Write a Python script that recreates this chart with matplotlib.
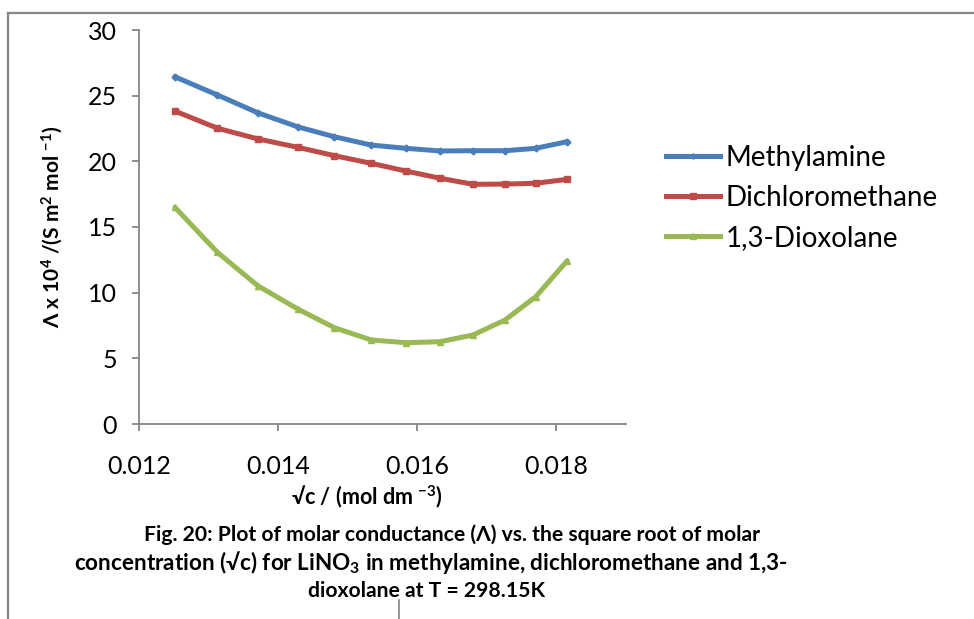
import matplotlib
matplotlib.use("Agg")
import matplotlib.pyplot as plt
from matplotlib.lines import Line2D

plt.rcParams['font.family'] = ['Lato', 'DejaVu Sans']
plt.rcParams['mathtext.fontset'] = 'custom'
plt.rcParams['mathtext.rm'] = 'Lato'
plt.rcParams['mathtext.bf'] = 'Lato:bold'
plt.rcParams['mathtext.it'] = 'Lato:italic'

sqrt_c = [0.012516, 0.013128, 0.013706, 0.014280, 0.014810, 0.015336,
          0.015838, 0.016330, 0.016803, 0.017262, 0.017702, 0.018155]
methylamine = [26.44, 25.05, 23.70, 22.63, 21.87, 21.24,
               20.99, 20.79, 20.81, 20.81, 20.99, 21.50]
dichloromethane = [23.83, 22.52, 21.71, 21.07, 20.43, 19.85,
                   19.26, 18.71, 18.25, 18.27, 18.33, 18.63]
dioxolane = [16.50, 13.07, 10.53, 8.76, 7.33, 6.40,
             6.19, 6.27, 6.78, 7.92, 9.69, 12.43]
series_names = ["Methylamine", "Dichloromethane", "1,3-Dioxolane"]
x_ticks = [0.012, 0.014, 0.016, 0.018]
y_ticks = [0, 5, 10, 15, 20, 25, 30]

colors = ["#4A7EBB", "#BE4B48", "#98B954"]
markers = ["D", "s", "^"]
msizes = [3.5, 5, 5]

W, H = 974, 619
fig = plt.figure(figsize=(W / 100, H / 100), dpi=100)
ax = fig.add_axes([139/W, 1-424/H, (626-139)/W, (424-30)/H])

for vals, name, c, m, ms in zip([methylamine, dichloromethane, dioxolane],
                                series_names, colors, markers, msizes):
    ax.plot(sqrt_c, vals, color=c, lw=3.6, marker=m, ms=ms, label=name,
            solid_capstyle='round', solid_joinstyle='round')

ax.set_xlim(0.012, 0.019)
ax.set_ylim(0, 30)
ax.set_xticks(x_ticks)
ax.set_xticklabels([f"{v:.3f}" for v in x_ticks])
ax.set_yticks(y_ticks)
ax.set_yticklabels([str(v) for v in y_ticks])

for s in ['top', 'right']:
    ax.spines[s].set_visible(False)
for s in ['left', 'bottom']:
    ax.spines[s].set_color('#868686')
    ax.spines[s].set_linewidth(1.3)
ax.tick_params(axis='both', direction='out', length=5, width=1.3,
               color='#868686', labelsize=18, labelcolor='black')
ax.tick_params(axis='x', pad=17)
ax.tick_params(axis='y', pad=11)

ax.set_ylabel(r"$\mathbf{\Lambda}$ x 10$^{\mathbf{4}}$ /(S m$^{\mathbf{2}}$ mol $^{\mathbf{-1}}$)",
              fontsize=15, fontweight='bold')
ax.yaxis.set_label_coords((65 - 139) / (626 - 139), 0.5)

fig.text(367/W, 1-497/H, r"√c / (mol dm $^{\mathbf{-3}}$)", ha='center', va='center',
         fontsize=15.5, fontweight='bold')

cap_lines = ["Fig. 20: Plot of molar conductance (Λ) vs. the square root of molar",
             r"concentration (√c) for LiNO$_{\mathbf{3}}$ in methylamine, dichloromethane and 1,3-",
             "dioxolane at T = 298.15K"]
cap_x = [452, 431, 427]
cap_y = [535, 563, 591]
cap_size = [15.2, 16.2, 15.2]
for t, cx, cy, fs in zip(cap_lines, cap_x, cap_y, cap_size):
    fig.text(cx/W, 1-cy/H, t, ha='center', va='center', fontsize=fs,
             fontweight='bold')

handles = [Line2D([], [], color=c, lw=3.6, marker=m, ms=ms * 0.8)
           for c, m, ms in zip(colors, markers, msizes)]
leg = fig.legend(handles, series_names, loc='upper left',
                 bbox_to_anchor=(666/W, 1-145/H), frameon=False,
                 fontsize=20, handlelength=1.95, handletextpad=0.2,
                 labelspacing=0.5, borderaxespad=0, borderpad=0)

# chart-area border
fig.add_artist(Line2D([8/W, 8/W], [0, 1-13/H], color='#868686', lw=1.6,
                      transform=fig.transFigure))
fig.add_artist(Line2D([8/W, 1], [1-13/H, 1-13/H], color='#868686', lw=1.6,
                      transform=fig.transFigure))
fig.add_artist(Line2D([399/W, 399/W], [0, 1-600/H], color='#868686', lw=1.2,
                      transform=fig.transFigure))

fig.savefig("out.png", dpi=100, facecolor='white')
